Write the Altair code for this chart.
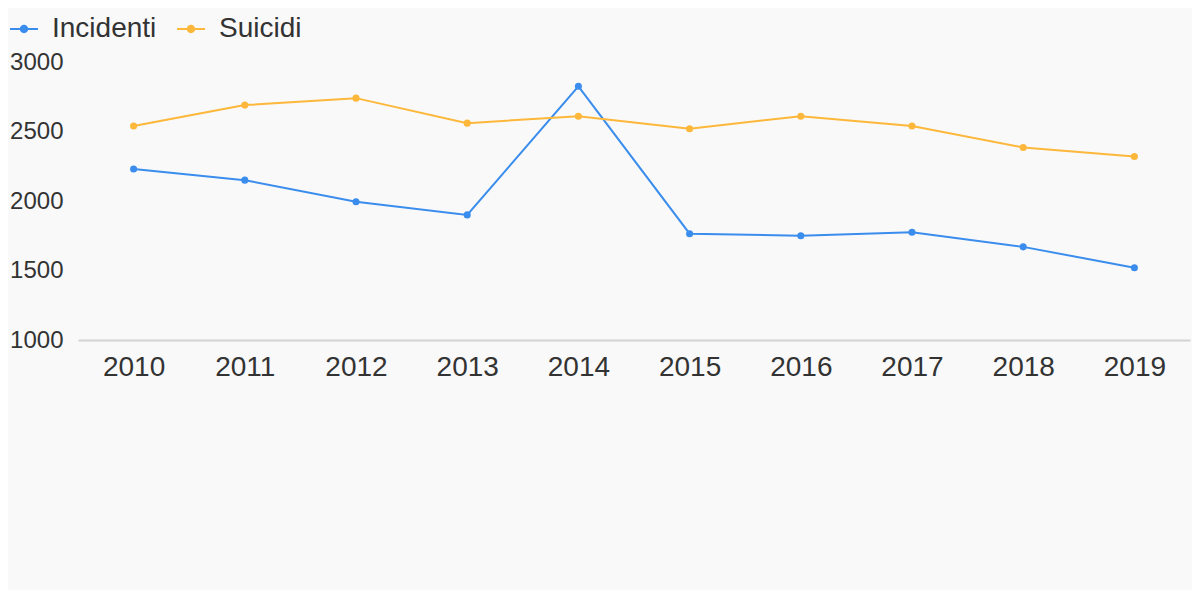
import altair as alt
import pandas as pd

years = ["2010", "2011", "2012", "2013", "2014", "2015", "2016", "2017", "2018", "2019"]
incidenti = [2230, 2150, 1995, 1900, 2825, 1765, 1750, 1775, 1670, 1520]
suicidi = [2540, 2690, 2740, 2560, 2610, 2520, 2610, 2540, 2385, 2320]
series = ["Incidenti", "Suicidi"]
colors = ["#3a8ded", "#fdb73a"]

rows = []
for y, a, b in zip(years, incidenti, suicidi):
    rows.append({"anno": y, "serie": series[0], "valore": a})
    rows.append({"anno": y, "serie": series[1], "valore": b})
df = pd.DataFrame(rows)

FONT = "Liberation Sans"
TEXT = "#333333"

color = alt.Color(
    "serie:N",
    scale=alt.Scale(domain=series, range=colors),
    legend=alt.Legend(
        title=None,
        orient="none",
        direction="horizontal",
        legendX=-68,
        legendY=-47,
        padding=0,
        symbolType="M-1,-0.07H1V0.07H-1Z M-0.3,0A0.3,0.3,0,1,1,0.3,0A0.3,0.3,0,1,1,-0.3,0Z",
        symbolSize=784,
        symbolStrokeWidth=0,
        labelFontSize=28,
        labelFont=FONT,
        labelColor=TEXT,
        labelOffset=14,
        columnPadding=20,
    ),
)

x = alt.X(
    "anno:O",
    scale=alt.Scale(type="point", padding=0.5),
    axis=alt.Axis(
        title=None,
        labelAngle=0,
        ticks=False,
        domainColor="#d3d3d3",
        domainWidth=2,
        labelFontSize=28,
        labelFont=FONT,
        labelColor=TEXT,
        labelPadding=13,
        grid=False,
    ),
)
y = alt.Y(
    "valore:Q",
    scale=alt.Scale(domain=[1000, 3000], nice=False, zero=False),
    axis=alt.Axis(
        title=None,
        values=[1000, 1500, 2000, 2500, 3000],
        ticks=False,
        domain=False,
        grid=False,
        labelFontSize=24,
        labelFont=FONT,
        labelColor=TEXT,
        labelPadding=15,
        format="d",
    ),
)

base = alt.Chart(df)
lines = base.mark_line(strokeWidth=2).encode(x=x, y=y, color=color)
points = base.mark_circle(size=50, opacity=1).encode(x=x, y=y, color=color)

chart = (
    alt.layer(lines, points)
    .properties(
        width=1112,
        height=278,
        background="#f9f9f9",
        padding={"left": 70, "top": 54, "right": 2, "bottom": 250},
        autosize=alt.AutoSizeParams(type="none"),
    )
    .configure_view(stroke=None)
)

chart.save("out.html", embed_options={"renderer": "svg", "actions": False})
